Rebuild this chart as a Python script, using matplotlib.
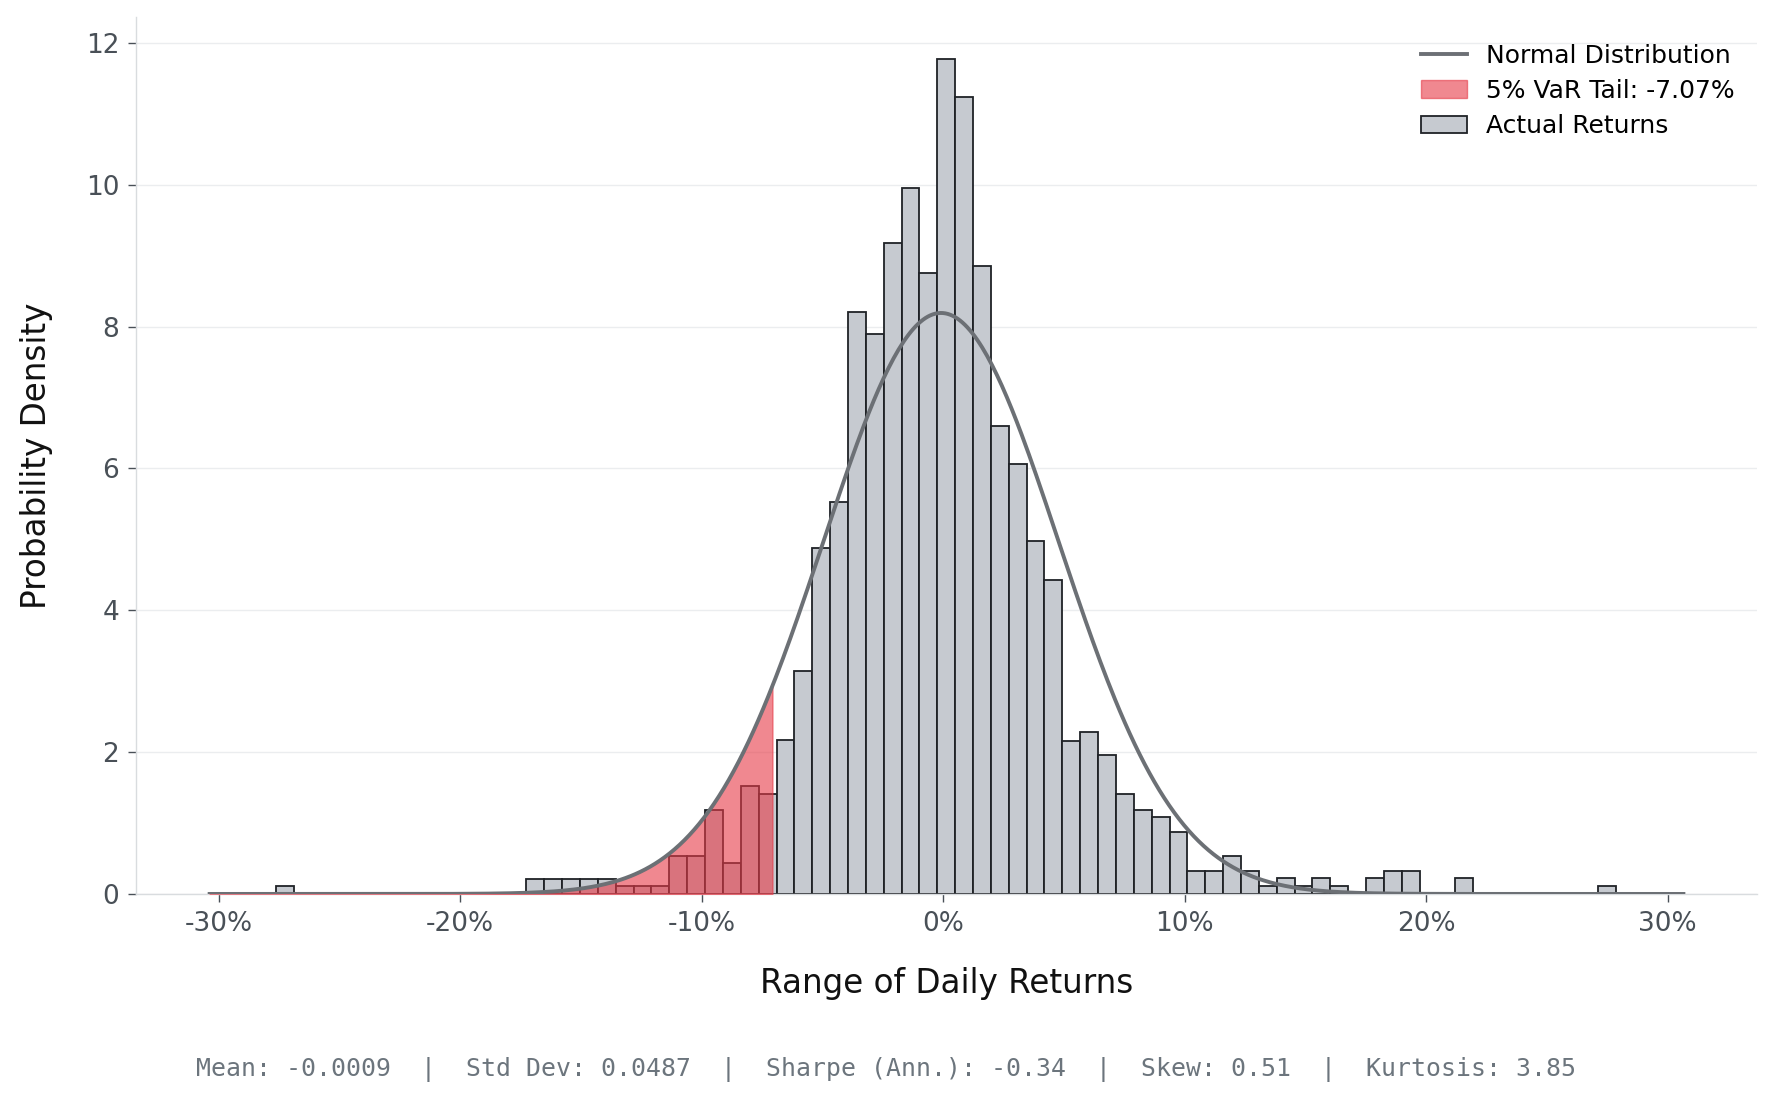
import numpy as np
import matplotlib
matplotlib.use("Agg")
import matplotlib.pyplot as plt
from matplotlib.ticker import FuncFormatter, MultipleLocator

# ---------------- data ----------------
data_min = -0.2761          # smallest daily return
data_max = 0.2786           # largest daily return
n_bins = 75
# density of each histogram bin
densities = [
    0.11, 0, 0, 0, 0, 0, 0, 0, 0, 0,
    0, 0, 0, 0, 0.21, 0.21, 0.21, 0.21, 0.21, 0.11,
    0.11, 0.11, 0.54, 0.54, 1.19, 0.43, 1.52, 1.41, 2.17, 3.15,
    4.88, 5.53, 8.21, 7.90, 9.18, 9.95, 8.76, 11.77, 11.23, 8.86,
    6.60, 6.06, 4.98, 4.43, 2.16, 2.28, 1.96, 1.41, 1.19, 1.09,
    0.87, 0.33, 0.33, 0.54, 0.33, 0.11, 0.22, 0.11, 0.22, 0.11,
    0, 0.22, 0.33, 0.33, 0, 0, 0.22, 0, 0, 0,
    0, 0, 0, 0, 0.11,
]
mean_ret = -0.0009
std_ret = 0.0487
var_5 = -0.0707
sharpe_ann = -0.34
skew = 0.51
kurt = 3.85

# ---------------- figure ----------------
fig = plt.figure(figsize=(17.77, 11.05), dpi=100)
ax = fig.add_axes([0.0765, 0.191, 0.9123, 0.7932])

edges = np.linspace(data_min, data_max, n_bins + 1)
width = edges[1] - edges[0]
dens = np.array(densities)
mask = dens > 0
bars = ax.bar(edges[:-1][mask], dens[mask], width=width, align="edge",
              color="#c6cad0", edgecolor="#1f2226", linewidth=1.3,
              zorder=2, label="Actual Returns")

x = np.linspace(data_min * 1.1, data_max * 1.1, 600)
pdf = np.exp(-0.5 * ((x - mean_ret) / std_ret) ** 2) / (std_ret * np.sqrt(2 * np.pi))
line, = ax.plot(x, pdf, color="#6c7075", linewidth=2.8, zorder=4,
                label="Normal Distribution")

xt = np.linspace(data_min * 1.1, var_5, 400)
pdft = np.exp(-0.5 * ((xt - mean_ret) / std_ret) ** 2) / (std_ret * np.sqrt(2 * np.pi))
fill = ax.fill_between(xt, pdft, 0, color="#e63946", alpha=0.6, zorder=3,
                       label=f"5% VaR Tail: {var_5*100:.2f}%")

# axes styling
ax.xaxis.set_major_locator(MultipleLocator(0.10))
ax.xaxis.set_major_formatter(FuncFormatter(lambda v, p: f"{v*100:.0f}%"))
ax.yaxis.set_major_locator(MultipleLocator(2))
ax.yaxis.set_major_formatter(FuncFormatter(lambda v, p: f"{v:.0f}"))
ax.set_ylim(0, max(densities) * 1.05)

ax.yaxis.grid(True, color="#ebedef", linewidth=1.0)
ax.xaxis.grid(False)
ax.set_axisbelow(True)
for s in ("top", "right"):
    ax.spines[s].set_visible(False)
for s in ("left", "bottom"):
    ax.spines[s].set_color("#d9dcdf")
    ax.spines[s].set_linewidth(1.0)
ax.tick_params(axis="both", labelsize=19, colors="#495057", length=6, width=1.0, pad=6)

ax.set_xlabel("Range of Daily Returns", fontsize=23.5, color="#111111", va="center")
ax.xaxis.set_label_coords(0.5, -0.1027)
ax.set_ylabel("Probability Density", fontsize=23.5, color="#111111", va="center")
ax.yaxis.set_label_coords(-0.0615, 0.5)

ax.legend(handles=[line, fill, bars], loc="upper right", frameon=False,
          fontsize=18, handlelength=1.85, handletextpad=0.75, labelspacing=0.45,
          borderaxespad=0.65, bbox_to_anchor=(1.0021, 1.0))

stats = (f"Mean: {mean_ret:.4f}  |  Std Dev: {std_ret:.4f}  |  "
         f"Sharpe (Ann.): {sharpe_ann:.2f}  |  Skew: {skew:.2f}  |  Kurtosis: {kurt:.2f}")
fig.text(0.4985, 0.032, stats, ha="center", va="center",
         family="DejaVu Sans Mono", fontsize=17.95, color="#6c757d")

fig.savefig("out.png", dpi=100)
